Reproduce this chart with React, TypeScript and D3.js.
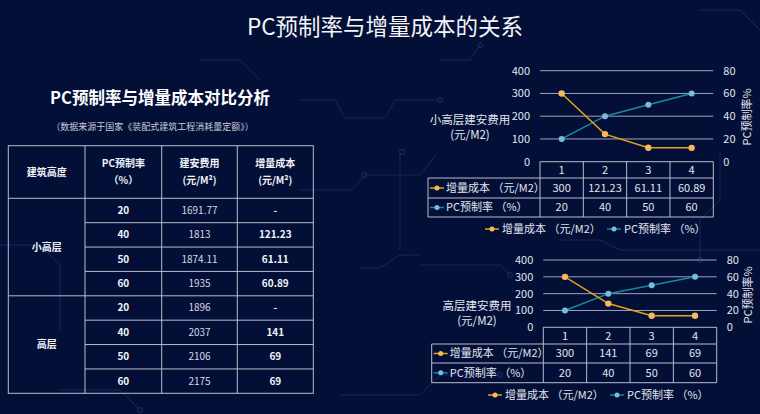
import React from "react";
import * as d3 from "d3";

// ---------- data ----------
const categories = ["1", "2", "3", "4"];
const lowRiseIncrement = [300, 121.23, 61.11, 60.89];
const highRiseIncrement = [300, 141, 69, 69];
const pcRate = [20, 40, 50, 60];
const leftTicks = [0, 100, 200, 300, 400];
const rightTicks = [0, 20, 40, 60, 80];
const seriesNames = ["增量成本 （元/M2）", "PC预制率 （%）"];

const tableHeaders = [["建筑高度"], ["PC预制率", "（%）"], ["建安费用", "(元/M²)"], ["增量成本", "(元/M²)"]];
const buildingGroups = ["小高层", "高层"];
const tablePcRates = ["20", "40", "50", "60"];
const lowRiseFees = ["1691.77", "1813", "1874.11", "1935"];
const highRiseFees = ["1896", "2037", "2106", "2175"];
const lowRiseIncrText = ["-", "121.23", "61.11", "60.89"];
const highRiseIncrText = ["-", "141", "69", "69"];

const FONT = "'Noto Sans CJK SC', 'Noto Sans', sans-serif";
const ORANGE = "#e3a21a";
const ORANGE_DOT = "#f6b85a";
const TEAL = "#178a9c";
const TEAL_DOT = "#78bcd8";
const GRID = "#9ea3b3";
const TXT = "#e2e5ee";
const BORDER = "#b9bdca";

type ChartProps = {
  plotLeft: number; plotRight: number; yTop: number; yBottom: number;
  rowBottoms: number[]; tableLeft: number; legendY: number;
  legendX: number[]; title: string; titleX: number; titleY: number;
  rightTitleX: number; rightTitleY: number; costs: number[];
};

function ComboChart(p: ChartProps) {
  const x = d3.scaleBand<string>().domain(categories).range([p.plotLeft, p.plotRight]);
  const yL = d3.scaleLinear().domain([0, 400]).range([p.yBottom, p.yTop]);
  const yR = d3.scaleLinear().domain([0, 80]).range([p.yBottom, p.yTop]);
  const cx = (c: string) => (x(c) as number) + x.bandwidth() / 2;
  const costLine = d3.line<number>().x((_, i) => cx(categories[i])).y((d) => yL(d));
  const rateLine = d3.line<number>().x((_, i) => cx(categories[i])).y((d) => yR(d));
  const [hb, r1, r2] = p.rowBottoms;
  const rows = [
    { name: seriesNames[0], vals: p.costs.map(String), c: ORANGE, dot: ORANGE_DOT, y0: hb, y1: r1 },
    { name: seriesNames[1], vals: pcRate.map(String), c: TEAL, dot: TEAL_DOT, y0: r1, y1: r2 },
  ];
  return (
    <g fontFamily={FONT}>
      {leftTicks.map((t) => (
        <g key={"g" + t}>
          {t > 0 && <line x1={p.plotLeft} x2={p.plotRight} y1={yL(t)} y2={yL(t)} stroke={GRID} strokeWidth={1} />}
          <text x={p.plotLeft - 10} y={yL(t)} dy="0.35em" textAnchor="end" fontSize={11} fill={TXT}>{t}</text>
        </g>
      ))}
      {rightTicks.map((t) => (
        <text key={"r" + t} x={p.plotRight + 10} y={yR(t)} dy="0.35em" fontSize={11} fill={TXT}>{t}</text>
      ))}
      <text transform={`translate(${p.rightTitleX},${p.rightTitleY}) rotate(-90)`} textAnchor="middle" dy="0.35em" fontSize={11} fill={TXT}>PC预制率%</text>
      <text x={p.titleX} y={p.titleY} textAnchor="middle" dy="0.35em" fontSize={11.5} fill={TXT}>{p.title}</text>
      <text x={p.titleX} y={p.titleY + 15} textAnchor="middle" dy="0.35em" fontSize={11.5} fill={TXT}>(元/M2)</text>
      {/* data table */}
      <g stroke={BORDER} strokeWidth={1} fill="none">
        <line x1={p.plotLeft} x2={p.plotRight} y1={p.yBottom} y2={p.yBottom} />
        <line x1={p.tableLeft} x2={p.plotRight} y1={hb} y2={hb} />
        <line x1={p.tableLeft} x2={p.plotRight} y1={r1} y2={r1} />
        <line x1={p.tableLeft} x2={p.plotRight} y1={r2} y2={r2} />
        <line x1={p.tableLeft} x2={p.tableLeft} y1={hb} y2={r2} />
        {categories.map((c) => (
          <line key={c} x1={x(c)} x2={x(c)} y1={p.yBottom} y2={r2} />
        ))}
        <line x1={p.plotRight} x2={p.plotRight} y1={p.yBottom} y2={r2} />
      </g>
      {categories.map((c) => (
        <text key={"h" + c} x={cx(c)} y={(p.yBottom + hb) / 2} dy="0.35em" textAnchor="middle" fontSize={11} fill={TXT}>{c}</text>
      ))}
      {rows.map((r) => (
        <g key={r.name}>
          <line x1={p.tableLeft + 2} x2={p.tableLeft + 16} y1={(r.y0 + r.y1) / 2} y2={(r.y0 + r.y1) / 2} stroke={r.c} strokeWidth={1.5} />
          <circle cx={p.tableLeft + 9} cy={(r.y0 + r.y1) / 2} r={2.5} fill={r.dot} />
          <text x={p.tableLeft + 18} y={(r.y0 + r.y1) / 2} dy="0.35em" fontSize={11} fill={TXT}>{r.name}</text>
          {r.vals.map((v, i) => (
            <text key={i} x={cx(categories[i])} y={(r.y0 + r.y1) / 2} dy="0.35em" textAnchor="middle" fontSize={11} fill={TXT}>{v}</text>
          ))}
        </g>
      ))}
      {/* lines */}
      <path d={rateLine(pcRate) || ""} fill="none" stroke={TEAL} strokeWidth={1.5} />
      <path d={costLine(p.costs) || ""} fill="none" stroke={ORANGE} strokeWidth={1.5} />
      {pcRate.map((v, i) => (
        <circle key={"t" + i} cx={cx(categories[i])} cy={yR(v)} r={3} fill={TEAL_DOT} />
      ))}
      {p.costs.map((v, i) => (
        <circle key={"o" + i} cx={cx(categories[i])} cy={yL(v)} r={3.2} fill={ORANGE_DOT} />
      ))}
      {/* legend */}
      {rows.map((r, i) => (
        <g key={"lg" + i}>
          <line x1={p.legendX[i]} x2={p.legendX[i] + 14} y1={p.legendY} y2={p.legendY} stroke={r.c} strokeWidth={1.5} />
          <circle cx={p.legendX[i] + 7} cy={p.legendY} r={2.5} fill={r.dot} />
          <text x={p.legendX[i] + 17} y={p.legendY} dy="0.35em" fontSize={11} fill={TXT}>{r.name}</text>
        </g>
      ))}
    </g>
  );
}

function LeftTable() {
  const colX = [8.3, 85, 161.7, 237.3, 313.3];
  const top = 145.7;
  const headBottom = 198.3;
  const rowH = (393.3 - headBottom) / 8;
  const rowY = d3.range(9).map((i) => headBottom + i * rowH);
  const colC = (i: number) => (colX[i] + colX[i + 1]) / 2;
  const groups = [
    { name: buildingGroups[0], fees: lowRiseFees, incr: lowRiseIncrText },
    { name: buildingGroups[1], fees: highRiseFees, incr: highRiseIncrText },
  ];
  return (
    <g fontFamily={FONT}>
      <text x={160} y={104} textAnchor="middle" fontSize={16.5} fontWeight="bold" fill="#ffffff">PC预制率与增量成本对比分析</text>
      <text x={152.5} y={127} textAnchor="middle" dy="0.35em" fontSize={9} fill="#c9ccd6">（数据来源于国家《装配式建筑工程消耗量定额》）</text>
      <g stroke={BORDER} strokeWidth={1} fill="none">
        <rect x={colX[0]} y={top} width={colX[4] - colX[0]} height={rowY[8] - top} />
        {colX.slice(1, 4).map((cx, i) => (
          <line key={i} x1={cx} x2={cx} y1={top} y2={rowY[8]} />
        ))}
        <line x1={colX[0]} x2={colX[4]} y1={headBottom} y2={headBottom} />
        <line x1={colX[0]} x2={colX[4]} y1={rowY[4]} y2={rowY[4]} />
        {[1, 2, 3, 5, 6, 7].map((i) => (
          <line key={"r" + i} x1={colX[1]} x2={colX[4]} y1={rowY[i]} y2={rowY[i]} />
        ))}
      </g>
      {tableHeaders.map((h, i) =>
        h.map((t, j) => (
          <text key={i + "-" + j} x={colC(i)} y={h.length === 1 ? (top + headBottom) / 2 : (top + headBottom) / 2 + (j === 0 ? -8.5 : 8.5)} dy="0.35em" textAnchor="middle" fontSize={10} fontWeight="bold" fill="#f2f3f7">{t}</text>
        ))
      )}
      {groups.map((g, gi) => (
        <g key={g.name}>
          <text x={colC(0)} y={(rowY[gi * 4] + rowY[gi * 4 + 4]) / 2} dy="0.35em" textAnchor="middle" fontSize={10} fontWeight="bold" fill="#f2f3f7">{g.name}</text>
          {tablePcRates.map((r, i) => {
            const yc = (rowY[gi * 4 + i] + rowY[gi * 4 + i + 1]) / 2;
            return (
              <g key={i}>
                <text x={colC(1)} y={yc} dy="0.35em" textAnchor="middle" fontSize={10} fontWeight="bold" fill="#f2f3f7">{r}</text>
                <text x={colC(2)} y={yc} dy="0.35em" textAnchor="middle" fontSize={10} fill="#d6d9e2">{g.fees[i]}</text>
                <text x={colC(3)} y={yc} dy="0.35em" textAnchor="middle" fontSize={10} fontWeight="bold" fill="#f2f3f7">{g.incr[i]}</text>
              </g>
            );
          })}
        </g>
      ))}
    </g>
  );
}

function Circuits() {
  const paths = [
    "M0,245 L40,245 L60,265 L60,330",
    "M300,100 L335,100 L345,118 L385,118 L395,100 L440,100",
    "M300,190 L352,190 L365,175 L420,175 L436,155",
    "M400,152 L400,250",
    "M360,268 L380,268 L400,255 L420,255",
    "M420,265 L500,265 L510,275",
    "M720,150 L720,200 L700,220 L700,260",
    "M340,395 L420,395 L440,375 L500,375",
    "M60,390 L120,390 L140,410",
    "M700,10 L740,10 L760,30",
    "M560,240 L600,240 L620,250 L760,250",
    "M200,60 L240,60 L260,80",
    "M440,60 L470,60 L480,45",
  ];
  const dots = [[402, 152], [364, 175], [440, 100], [510, 275], [700, 260], [500, 375], [480, 45], [140, 410]];
  return (
    <g>
      {paths.map((d, i) => (
        <path key={i} d={d} fill="none" stroke="#17275e" strokeWidth={1} />
      ))}
      {dots.map((d, i) => (
        <circle key={i} cx={d[0]} cy={d[1]} r={2.5} fill="none" stroke="#1c2e68" strokeWidth={1} />
      ))}
    </g>
  );
}

export default function App() {
  return (
    <div style={{ position: "fixed", left: 0, top: 0, width: 760, height: 414 }}>
      <svg width={760} height={414} style={{ display: "block" }}>
        <rect width={760} height={414} fill="#030f37" />
        <Circuits />
        <text x={385} y={27} dy="0.35em" textAnchor="middle" fontFamily={FONT} fontSize={22.5} fill="#f4f5f8">PC预制率与增量成本的关系</text>
        <LeftTable />
        <ComboChart
          plotLeft={540} plotRight={713.3} yTop={70.7} yBottom={161.7}
          rowBottoms={[178, 198, 217]} tableLeft={428} legendY={229} legendX={[485, 607]}
          title="小高层建安费用" titleX={470} titleY={120}
          rightTitleX={747} rightTitleY={117} costs={lowRiseIncrement}
        />
        <ComboChart
          plotLeft={543.3} plotRight={716.7} yTop={260} yBottom={327.3}
          rowBottoms={[344, 363, 382.7]} tableLeft={431.7} legendY={395} legendX={[488, 610]}
          title="高层建安费用" titleX={477} titleY={305.5}
          rightTitleX={748} rightTitleY={295} costs={highRiseIncrement}
        />
      </svg>
    </div>
  );
}
